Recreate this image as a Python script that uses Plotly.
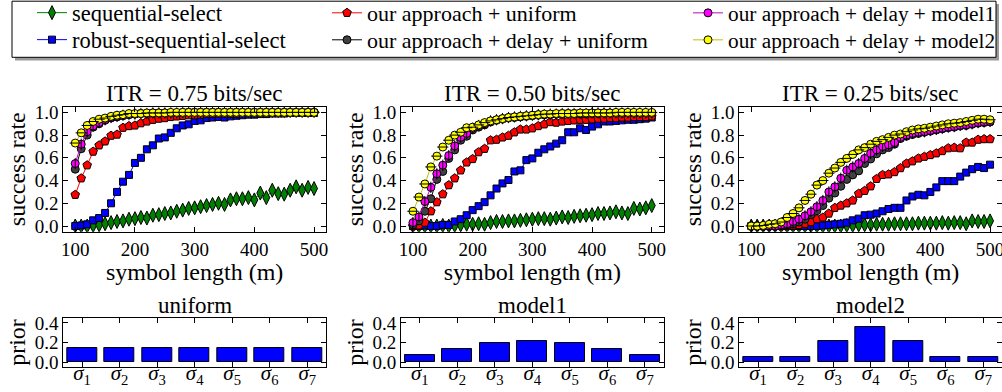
import plotly.graph_objects as go

# ---------------- data ----------------
symbol_length = [100, 110, 120, 130, 140, 150, 160, 170, 180, 190, 200, 210, 220, 230, 240,
                 250, 260, 270, 280, 290, 300, 310, 320, 330, 340, 350, 360, 370, 380, 390,
                 400, 410, 420, 430, 440, 450, 460, 470, 480, 490, 500]

# ITR = 0.75 bits/sec
seq_075 = [0.0, 0.0, 0.0, 0.005, 0.01, 0.02, 0.03, 0.04, 0.045, 0.06, 0.065, 0.075, 0.07, 0.095,
           0.10, 0.11, 0.115, 0.13, 0.14, 0.155, 0.16, 0.17, 0.18, 0.19, 0.20, 0.19, 0.23, 0.24,
           0.24, 0.25, 0.23, 0.29, 0.25, 0.315, 0.285, 0.28, 0.315, 0.345, 0.315, 0.34, 0.33]
rob_075 = [0.0, 0.005, 0.015, 0.05, 0.07, 0.115, 0.20, 0.30, 0.39, 0.45, 0.555, 0.60, 0.675, 0.71,
           0.77, 0.78, 0.82, 0.86, 0.885, 0.895, 0.925, 0.93, 0.95, 0.955, 0.96, 0.955, 0.965, 0.97,
           0.975, 0.98, 0.98, 0.985, 0.985, 0.99, 0.99, 0.99, 0.995, 0.995, 0.995, 0.995, 0.995]
uni_075 = [0.275, 0.42, 0.535, 0.655, 0.71, 0.745, 0.795, 0.805, 0.865, 0.88, 0.885, 0.905, 0.92,
           0.935, 0.945, 0.95, 0.96, 0.965, 0.97, 0.975, 0.975, 0.98, 0.985, 0.985, 0.99, 0.99,
           0.99, 0.99, 0.995, 0.995, 0.995, 0.995, 0.995, 1.0, 1.0, 1.0, 1.0, 1.0, 1.0, 1.0, 1.0]
dun_075 = [0.50, 0.68, 0.80, 0.87, 0.90, 0.93, 0.95, 0.96, 0.97, 0.98, 0.985, 0.99, 0.99, 0.995,
           0.995, 0.995, 0.995, 0.995, 0.995, 1.0, 1.0, 1.0, 1.0, 1.0, 1.0, 1.0, 1.0, 1.0, 1.0,
           1.0, 1.0, 1.0, 1.0, 1.0, 1.0, 1.0, 1.0, 1.0, 1.0, 1.0, 1.0]
m1_075 = [0.55, 0.72, 0.83, 0.88, 0.91, 0.935, 0.955, 0.965, 0.975, 0.98, 0.985, 0.99, 0.99, 0.995,
          0.995, 0.995, 0.995, 0.995, 1.0, 1.0, 1.0, 1.0, 1.0, 1.0, 1.0, 1.0, 1.0, 1.0, 1.0, 1.0,
          1.0, 1.0, 1.0, 1.0, 1.0, 1.0, 1.0, 1.0, 1.0, 1.0, 1.0]
m2_075 = [0.73, 0.82, 0.885, 0.92, 0.94, 0.95, 0.965, 0.975, 0.98, 0.99, 0.99, 0.99, 0.995, 0.995,
          0.995, 0.995, 1.0, 1.0, 1.0, 1.0, 1.0, 1.0, 1.0, 1.0, 1.0, 1.0, 1.0, 1.0, 1.0, 1.0, 1.0,
          1.0, 1.0, 1.0, 1.0, 1.0, 1.0, 1.0, 1.0, 1.0, 1.0]

# ITR = 0.50 bits/sec
seq_050 = [0.0, 0.0, 0.0, 0.0, 0.0, 0.005, 0.0, 0.005, 0.01, 0.015, 0.015, 0.02, 0.015, 0.03, 0.04,
           0.04, 0.045, 0.045, 0.05, 0.055, 0.06, 0.065, 0.065, 0.06, 0.07, 0.08, 0.075, 0.085,
           0.09, 0.095, 0.10, 0.11, 0.11, 0.115, 0.125, 0.115, 0.11, 0.155, 0.15, 0.16, 0.18]
rob_050 = [0.0, 0.0, 0.005, 0.0, 0.0, 0.01, 0.01, 0.04, 0.06, 0.095, 0.14, 0.175, 0.21, 0.27, 0.33,
           0.375, 0.405, 0.48, 0.49, 0.58, 0.595, 0.645, 0.675, 0.70, 0.725, 0.755, 0.825, 0.825,
           0.86, 0.845, 0.875, 0.895, 0.92, 0.92, 0.925, 0.93, 0.935, 0.935, 0.94, 0.945, 0.955]
uni_050 = [0.0, 0.005, 0.03, 0.13, 0.21, 0.28, 0.36, 0.42, 0.49, 0.56, 0.59, 0.65, 0.68, 0.755, 0.76,
           0.78, 0.795, 0.825, 0.85, 0.85, 0.86, 0.88, 0.895, 0.915, 0.91, 0.92, 0.925, 0.93, 0.935,
           0.935, 0.94, 0.945, 0.945, 0.95, 0.95, 0.955, 0.955, 0.96, 0.96, 0.96, 0.965]
dun_050 = [0.01, 0.045, 0.13, 0.24, 0.41, 0.48, 0.595, 0.67, 0.755, 0.79, 0.845, 0.87, 0.89, 0.915,
           0.93, 0.94, 0.95, 0.955, 0.96, 0.965, 0.97, 0.975, 0.98, 0.98, 0.985, 0.985, 0.99, 0.99,
           0.99, 0.99, 0.99, 0.99, 0.995, 0.995, 0.995, 0.995, 0.995, 0.995, 0.995, 0.995, 0.995]
m1_050 = [0.03, 0.08, 0.215, 0.34, 0.46, 0.535, 0.62, 0.705, 0.78, 0.815, 0.86, 0.885, 0.90, 0.925,
          0.935, 0.945, 0.955, 0.96, 0.965, 0.97, 0.975, 0.98, 0.98, 0.985, 0.985, 0.99, 0.99, 0.99,
          0.99, 0.99, 0.995, 0.995, 0.995, 0.995, 0.995, 0.995, 0.995, 0.995, 0.995, 0.995, 0.995]
m2_050 = [0.13, 0.255, 0.37, 0.52, 0.615, 0.695, 0.755, 0.80, 0.825, 0.865, 0.87, 0.89, 0.91, 0.925,
          0.935, 0.945, 0.955, 0.96, 0.965, 0.97, 0.975, 0.98, 0.985, 0.985, 0.99, 0.99, 0.99, 0.99,
          0.995, 0.995, 0.995, 0.995, 0.995, 0.995, 1.0, 1.0, 1.0, 1.0, 1.0, 1.0, 1.0]

# ITR = 0.25 bits/sec
seq_025 = [0.0, 0.0, 0.0, 0.0, 0.0, 0.0, 0.0, 0.0, 0.0, 0.0, 0.0, 0.0, 0.0, 0.0, 0.0, 0.0, 0.005,
           0.005, 0.01, 0.01, 0.01, 0.015, 0.015, 0.015, 0.02, 0.02, 0.02, 0.02, 0.025, 0.025, 0.025,
           0.025, 0.03, 0.025, 0.03, 0.03, 0.02, 0.045, 0.04, 0.04, 0.045]
rob_025 = [0.0, 0.0, 0.0, 0.0, 0.0, 0.0, 0.0, 0.0, 0.0, 0.0, 0.0, 0.0, 0.005, 0.01, 0.015, 0.02,
           0.03, 0.05, 0.065, 0.095, 0.10, 0.11, 0.13, 0.15, 0.16, 0.16, 0.225, 0.26, 0.275, 0.27,
           0.30, 0.34, 0.395, 0.395, 0.395, 0.435, 0.47, 0.50, 0.52, 0.51, 0.54]
uni_025 = [0.0, 0.0, 0.0, 0.0, 0.0, 0.0, 0.0, 0.005, 0.01, 0.02, 0.035, 0.06, 0.075, 0.11, 0.16, 0.18,
           0.20, 0.225, 0.285, 0.31, 0.35, 0.415, 0.45, 0.455, 0.475, 0.51, 0.55, 0.57, 0.595, 0.61,
           0.625, 0.64, 0.66, 0.685, 0.69, 0.685, 0.735, 0.735, 0.76, 0.765, 0.765]
dun_025 = [0.0, 0.0, 0.0, 0.0, 0.0, 0.005, 0.01, 0.02, 0.035, 0.06, 0.10, 0.135, 0.18, 0.245, 0.29,
           0.35, 0.41, 0.45, 0.485, 0.55, 0.59, 0.635, 0.67, 0.69, 0.72, 0.77, 0.79, 0.805, 0.815,
           0.825, 0.835, 0.845, 0.855, 0.865, 0.87, 0.88, 0.885, 0.895, 0.905, 0.91, 0.915]
m1_025 = [0.0, 0.0, 0.0, 0.0, 0.0, 0.01, 0.02, 0.04, 0.06, 0.09, 0.125, 0.17, 0.225, 0.30, 0.345,
          0.42, 0.49, 0.52, 0.55, 0.595, 0.64, 0.67, 0.70, 0.715, 0.735, 0.78, 0.80, 0.815, 0.825,
          0.83, 0.84, 0.85, 0.86, 0.87, 0.875, 0.885, 0.89, 0.90, 0.91, 0.915, 0.92]
m2_025 = [0.0, 0.0, 0.005, 0.015, 0.02, 0.035, 0.075, 0.11, 0.16, 0.225, 0.28, 0.36, 0.40, 0.465,
          0.51, 0.56, 0.595, 0.63, 0.67, 0.69, 0.72, 0.745, 0.76, 0.78, 0.80, 0.81, 0.83, 0.845,
          0.855, 0.86, 0.87, 0.88, 0.89, 0.90, 0.905, 0.91, 0.92, 0.93, 0.94, 0.94, 0.935]

itr_titles = ["ITR = 0.75 bits/sec", "ITR = 0.50 bits/sec", "ITR = 0.25 bits/sec"]

series_names = ["sequential-select", "robust-sequential-select", "our approach + uniform",
                "our approach + delay + uniform", "our approach + delay + model1",
                "our approach + delay + model2"]

panels = [
    [seq_075, rob_075, uni_075, dun_075, m1_075, m2_075],
    [seq_050, rob_050, uni_050, dun_050, m1_050, m2_050],
    [seq_025, rob_025, uni_025, dun_025, m1_025, m2_025],
]

sigma_positions = [1, 2, 3, 4, 5, 6, 7]
sigma_labels = ["<i>σ</i><sub>1</sub>", "<i>σ</i><sub>2</sub>", "<i>σ</i><sub>3</sub>",
                "<i>σ</i><sub>4</sub>", "<i>σ</i><sub>5</sub>", "<i>σ</i><sub>6</sub>",
                "<i>σ</i><sub>7</sub>"]
prior_titles = ["uniform", "model1", "model2"]
prior_uniform = [0.143, 0.143, 0.143, 0.143, 0.143, 0.143, 0.143]
prior_model1 = [0.07, 0.13, 0.19, 0.22, 0.19, 0.13, 0.07]
prior_model2 = [0.05, 0.05, 0.22, 0.36, 0.22, 0.05, 0.05]
priors = [prior_uniform, prior_model1, prior_model2]

# ---------------- styles ----------------
FONT = "Liberation Serif"
styles = [
    dict(line="#008000", fill="#008000", symbol="diamond-tall", size=10, overlay=None),
    dict(line="#0000FF", fill="#0000FF", symbol="square", size=7, overlay=None),
    dict(line="#FF0000", fill="#FF0000", symbol="pentagon", size=9, overlay=None),
    dict(line="#000000", fill="#404040", symbol="circle", size=8, overlay=None),
    dict(line="#BF00BF", fill="#FF00FF", symbol="circle", size=8, overlay="line-ns"),
    dict(line="#BFBF00", fill="#FFFF00", symbol="circle", size=8, overlay="line-ew"),
]
legend_ids = ["legend", "legend2", "legend3", "legend4", "legend5", "legend6"]
# legend placement (pixel x of the legend box left, pixel y of the row centre, font size)
legend_px = [(32, 13, 22.5), (32, 40, 22.5), (327, 13, 22), (327, 40, 22),
             (688, 13, 21.3), (688, 40, 21.3)]

W_FIG, H_FIG = 1002, 392
lefts = [63.3, 401.0, 739.3]
width = 262.7

def xdom(i):
    a = lefts[i] / W_FIG
    b = min(1.0, (lefts[i] + width) / W_FIG)
    return [a, b]

top_dom = [1 - 231.7 / H_FIG, 1 - 106.7 / H_FIG]
bot_dom = [1 - 367.0 / H_FIG, 1 - 318.0 / H_FIG]

fig = go.Figure()

for p in range(3):
    ax = "" if p == 0 else str(p + 1)
    for s in range(6):
        st = styles[s]
        fig.add_trace(go.Scatter(
            x=symbol_length, y=panels[p][s], mode="lines+markers", name=series_names[s],
            xaxis="x" + ax, yaxis="y" + ax,
            line=dict(color=st["line"], width=1),
            marker=dict(symbol=st["symbol"], size=st["size"], color=st["fill"],
                        line=dict(color="black", width=1)),
            showlegend=(p == 0), legend=legend_ids[s], hoverinfo="skip"))
        if st["overlay"]:
            fig.add_trace(go.Scatter(
                x=symbol_length, y=panels[p][s], mode="markers",
                xaxis="x" + ax, yaxis="y" + ax, showlegend=False, hoverinfo="skip",
                marker=dict(symbol=st["overlay"], size=st["size"],
                            line=dict(color="black", width=1))))

for p in range(3):
    ax = str(p + 4)
    fig.add_trace(go.Bar(
        x=sigma_positions, y=priors[p], width=0.8, xaxis="x" + ax, yaxis="y" + ax,
        marker=dict(color="#0000FF", line=dict(color="black", width=1)),
        showlegend=False, hoverinfo="skip"))

axis_common = dict(showline=True, linecolor="black", linewidth=1, mirror="allticks",
                   ticks="inside", ticklen=5, tickwidth=1, tickcolor="black",
                   showgrid=False, zeroline=False, ticklabeloverflow="allow",
                   tickfont=dict(family=FONT, size=19, color="black"))
axis_title_font = dict(family=FONT, size=24, color="black")
title_font = dict(family=FONT, size=23, color="black")

layout = dict(width=W_FIG, height=H_FIG, margin=dict(l=0, r=0, t=0, b=0, autoexpand=False),
              paper_bgcolor="white", plot_bgcolor="white",
              font=dict(family=FONT, color="black"), bargap=0)

for p in range(3):
    xk = "xaxis" if p == 0 else "xaxis%d" % (p + 1)
    yk = "yaxis" if p == 0 else "yaxis%d" % (p + 1)
    anc = "x" if p == 0 else "x%d" % (p + 1)
    ancy = "y" if p == 0 else "y%d" % (p + 1)
    layout[xk] = dict(axis_common, domain=xdom(p), anchor=ancy, range=[80, 520],
                      tickvals=[100, 200, 300, 400, 500],
                      title=dict(text="symbol length (m)", font=axis_title_font, standoff=0))
    layout[yk] = dict(axis_common, domain=top_dom, anchor=anc, range=[-0.05, 1.05],
                      tickvals=[0.0, 0.2, 0.4, 0.6, 0.8, 1.0], tickformat=".1f",
                      title=dict(text="success rate", font=axis_title_font, standoff=2))
for p in range(3):
    n = p + 4
    layout["xaxis%d" % n] = dict(axis_common, domain=xdom(p), anchor="y%d" % n, range=[0.5, 7.5],
                                tickvals=sigma_positions, ticktext=sigma_labels,
                                tickfont=dict(family=FONT, size=21, color="black"),
                                ticklabelstandoff=-13)
    layout["yaxis%d" % n] = dict(axis_common, domain=bot_dom, anchor="x%d" % n, range=[-0.05, 0.45],
                                tickvals=[0.0, 0.2, 0.4], tickformat=".1f",
                                title=dict(text="prior", font=axis_title_font, standoff=2))

annotations = []
for p in range(3):
    cx = (lefts[p] + width / 2) / W_FIG
    annotations.append(dict(text=itr_titles[p], x=cx, y=1 - 93 / H_FIG, xref="paper", yref="paper",
                            xanchor="center", yanchor="middle", showarrow=False, font=title_font))
    annotations.append(dict(text=prior_titles[p], x=cx, y=1 - 305 / H_FIG, xref="paper", yref="paper",
                            xanchor="center", yanchor="middle", showarrow=False, font=title_font))
layout["annotations"] = annotations

# legend frame with shadow
shapes = [
    dict(type="rect", xref="paper", yref="paper", layer="below",
         x0=15 / W_FIG, x1=999 / W_FIG, y0=1 - 60.5 / H_FIG, y1=1 - 4 / H_FIG,
         fillcolor="#9a9a9a", line=dict(width=0)),
    dict(type="rect", xref="paper", yref="paper", layer="below",
         x0=12 / W_FIG, x1=996 / W_FIG, y0=1 - 57.3 / H_FIG, y1=1 - 1.2 / H_FIG,
         fillcolor="white", line=dict(color="black", width=1)),
]
layout["shapes"] = shapes

for lid, (lx, ly, fs) in zip(legend_ids, legend_px):
    layout[lid] = dict(orientation="v", bgcolor="rgba(0,0,0,0)", borderwidth=0,
                       font=dict(family=FONT, size=fs, color="black"),
                       xanchor="left", yanchor="middle",
                       x=lx / W_FIG, y=1 - ly / H_FIG)

fig.update_layout(**layout)
fig.write_html("out.html", config={"displayModeBar": False},
               post_script="document.body.style.margin='0px';")
